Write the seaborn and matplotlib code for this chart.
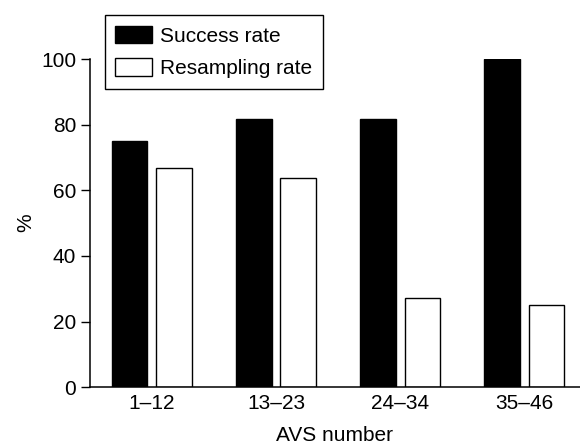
import seaborn as sns
import pandas as pd
import matplotlib.pyplot as plt

groups = ["1–12", "13–23", "24–34", "35–46"]
success_rate = [75.0, 81.8, 81.8, 100.0]
resampling_rate = [66.7, 63.6, 27.3, 25.0]

df = pd.DataFrame({
    "group": groups * 2,
    "rate": success_rate + resampling_rate,
    "series": ["Success rate"] * 4 + ["Resampling rate"] * 4,
})

sns.set_style("ticks")
plt.rcParams["font.family"] = ["Liberation Sans", "DejaVu Sans"]
plt.rcParams["text.color"] = "black"
plt.rcParams["axes.labelcolor"] = "black"
plt.rcParams["xtick.color"] = "black"
plt.rcParams["ytick.color"] = "black"
fs = 15

fig = plt.figure(figsize=(5.8, 4.44), dpi=100)
ax = fig.add_axes([0.155, 0.128, 0.845, 0.739])

sns.barplot(data=df, x="group", y="rate", hue="series",
            palette=["black", "white"], edgecolor="black", linewidth=1,
            width=0.72, gap=0.2, ax=ax)

ax.set_ylim(0, 100)
ax.set_xlim(-0.5, 3.45)
ax.set_yticks([0, 20, 40, 60, 80, 100])
ax.set_xlabel("AVS number", fontsize=fs, labelpad=9)
ax.set_ylabel("%", fontsize=fs, labelpad=4)
ax.tick_params(axis="y", labelsize=fs, length=6.5, width=1, color="black")
ax.tick_params(axis="x", labelsize=fs, length=0, pad=5)
sns.despine(ax=ax)
for s in ["left", "bottom"]:
    ax.spines[s].set_linewidth(1.1)
    ax.spines[s].set_color("black")

handles, labels = ax.get_legend_handles_labels()
ax.legend(handles, labels, loc="upper left",
          bbox_to_anchor=(0.181, 0.966), bbox_transform=fig.transFigure,
          borderaxespad=0, fontsize=fs, frameon=True, fancybox=False,
          edgecolor="black", framealpha=1, handlelength=1.75,
          handleheight=0.95, handletextpad=0.4, borderpad=0.5,
          labelspacing=0.6)
ax.get_legend().get_frame().set_linewidth(1)

fig.savefig("out.png", dpi=100)
